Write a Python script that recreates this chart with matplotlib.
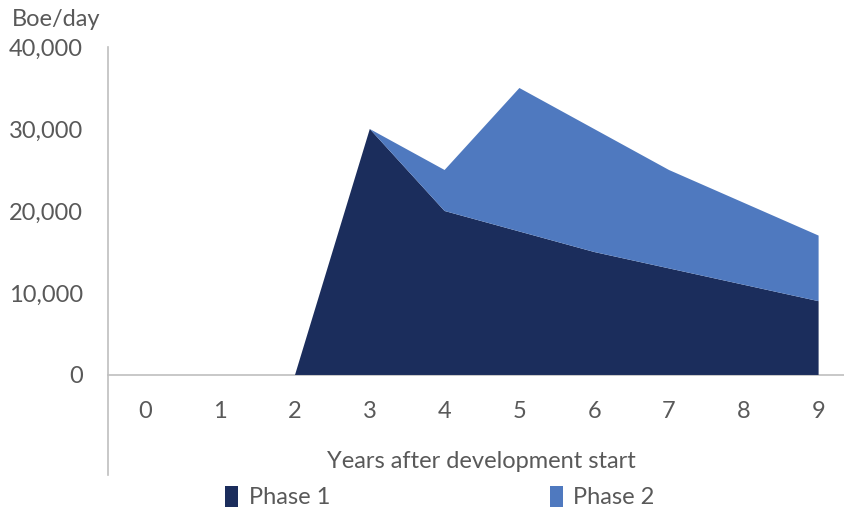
import numpy as np
import matplotlib.pyplot as plt

years = [0, 1, 2, 3, 4, 5, 6, 7, 8, 9]
phase1 = [0, 0, 0, 30000, 20000, 17500, 15000, 13000, 11000, 9000]
phase2 = [0, 0, 0, 0, 5000, 17500, 15000, 12000, 10000, 8000]
yticks = [0, 10000, 20000, 30000, 40000]

navy = '#1b2d5c'
blue = '#4f79bf'
grey_txt = '#595959'
grey_line = '#bfbfbf'
fs = 17

plt.rcParams['font.family'] = ['Lato', 'DejaVu Sans']

fig = plt.figure(figsize=(8.44, 5.08), dpi=100)
# axes: x from -0.5..9.5 (runs a little past the right edge), y has some room under 0
ax = fig.add_axes([108/844, (508-475)/508, 748/844, 428/508])

ax.stackplot(years, phase1, phase2, colors=[navy, blue], labels=['Phase 1', 'Phase 2'],
             linewidth=0)

ax.set_xlim(-0.5, 9.5)
ax.set_ylim(-12200, 40000)
ax.set_yticks(yticks)
ax.set_yticklabels(['{:,}'.format(v) for v in yticks])
ax.set_xticks(years)
ax.set_xticklabels([str(y) for y in years])

for s in ['top', 'right']:
    ax.spines[s].set_visible(False)
ax.spines['bottom'].set_position(('data', 0))
ax.spines['bottom'].set_color(grey_line)
ax.spines['bottom'].set_linewidth(1.2)
ax.spines['left'].set_color(grey_line)
ax.spines['left'].set_linewidth(1.2)
ax.spines['bottom'].set_zorder(0)

ax.tick_params(axis='both', length=0, colors=grey_txt, labelsize=fs)
ax.tick_params(axis='y', pad=18)
ax.tick_params(axis='x', pad=19)

fig.text(12/844, 1 - 20/508, 'Boe/day', color=grey_txt, fontsize=fs, va='center', ha='left')
fig.text(481/844, 1 - 462/508, 'Years after development start', color=grey_txt,
         fontsize=fs, va='center', ha='center')

leg = fig.legend(loc='center', bbox_to_anchor=(440/844, 1 - 497/508), ncol=2, frameon=False,
                 fontsize=fs, handlelength=0.55, handleheight=1.0, handletextpad=0.45,
                 columnspacing=9.3)
for t in leg.get_texts():
    t.set_color(grey_txt)

fig.savefig('out.png', dpi=100)
